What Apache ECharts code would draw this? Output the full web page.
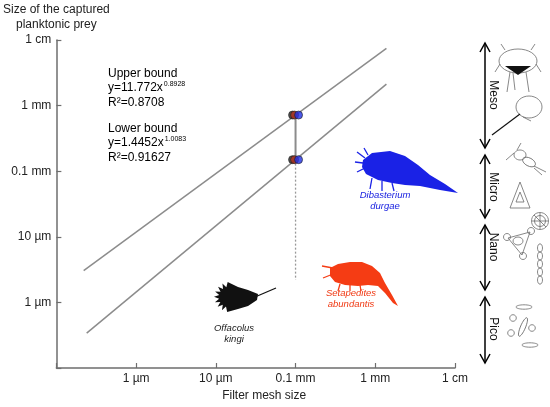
<!DOCTYPE html>
<html><head><meta charset="utf-8">
<script src="https://cdn.jsdelivr.net/npm/echarts@6/dist/echarts.min.js"></script>
<style>html,body{margin:0;padding:0;background:#fff}#c{width:550px;height:407px}</style>
</head><body><div id="c"></div>
<script>
// ---- data (values in µm) ----
const tickExponents = [-1, 0, 1, 2, 3, 4];
const tickLabels = ['', '1 µm', '10 µm', '0.1 mm', '1 mm', '1 cm'];
const upperLine = [[0.22, 3.05], [1380, 7480]];
const lowerLine = [[0.24, 0.34], [1380, 2120]];
const measuredPoints = [[100, 718], [100, 150]];
const dropLine = [[100, 150], [100, 2.2]];
const boundLink = [[100, 718], [100, 150]];
const sizeClasses = ['Meso', 'Micro', 'Nano', 'Pico'];
const speciesNames = ['Dibasterium\ndurgae', 'Setapedites\nabundantis', 'Offacolus\nkingi'];

const FONT = 'Liberation Sans, Arial, sans-serif';
function tickFmt(v) {
  const e = Math.round(Math.log10(v));
  const i = tickExponents.indexOf(e);
  return i >= 0 ? tickLabels[i] : '';
}
const axisCommon = {
  type: 'log', logBase: 10, min: 0.1, max: 10000,
  axisLine: { show: true, lineStyle: { color: '#6e6e6e', width: 1.5 } },
  axisTick: { show: true, inside: true, length: 5, lineStyle: { color: '#6e6e6e', width: 1.2 } },
  axisLabel: { formatter: tickFmt, color: '#222', fontSize: 12, fontFamily: FONT, margin: 5 },
  splitLine: { show: false }, minorTick: { show: false }
};

const chart = echarts.init(document.getElementById('c'));

const g = [];
const gray = '#6a6a6a';
function L(x1, y1, x2, y2, c, w) { g.push({ type: 'line', shape: { x1, y1, x2, y2 }, style: { stroke: c || gray, lineWidth: w || 0.8 }, silent: true }); }
function E(cx, cy, rx, ry, c, fill, rot) { g.push({ type: 'ellipse', x: cx, y: cy, rotation: rot || 0, shape: { cx: 0, cy: 0, rx, ry }, style: { stroke: c || gray, fill: fill || 'none', lineWidth: 0.8 }, silent: true }); }
function P(points, fill, stroke) { g.push({ type: 'polygon', shape: { points }, style: { fill: fill || 'none', stroke: stroke || 'none', lineWidth: 0.8 }, silent: true }); }

// annotations
const rich = { n: { fontSize: 12, fontFamily: FONT, color: '#111', lineHeight: 14.5 }, s: { fontSize: 7, fontFamily: FONT, color: '#111', lineHeight: 14.5, verticalAlign: 'top', padding: [0, 0, 0, 1] } };
g.push({ type: 'text', x: 108, y: 66, style: { text: '{n|Upper bound}\n{n|y=11.772x}{s|0.8928}\n{n|R²=0.8708}', rich } });
g.push({ type: 'text', x: 108, y: 121, style: { text: '{n|Lower bound}\n{n|y=1.4452x}{s|1.0083}\n{n|R²=0.91627}', rich } });

// species labels
const spPos = [[385, 190, '#1a22e0'], [351, 288, '#f03a14'], [234, 323, '#222']];
speciesNames.forEach((n, i) => g.push({ type: 'text', x: spPos[i][0], y: spPos[i][1], style: { text: n, fill: spPos[i][2], font: 'italic 9.5px ' + FONT, textAlign: 'center', lineHeight: 11 }, silent: true }));

// silhouettes
const blue = '#1a22e6';
P([[363,160],[372,153],[390,151],[405,156],[418,165],[430,175],[445,184],[458,193],[440,190],[420,186],[405,185],[392,183],[378,180],[366,174],[362,167]], blue);
[[365,158,357,152],[363,163,355,162],[365,168,357,172],[372,178,370,189],[382,181,382,191],[392,183,394,191],[368,155,364,148]].forEach(a => L(a[0],a[1],a[2],a[3],blue,1.3));
const red = '#f53c14';
P([[330,268],[338,264],[350,262],[362,262],[372,266],[380,273],[385,283],[392,295],[398,306],[393,303],[385,293],[378,286],[368,285],[358,286],[345,285],[335,282],[330,276]], red);
[[333,268,322,266],[333,274,323,278],[340,284,338,291],[350,285,350,291],[360,285,361,291]].forEach(a => L(a[0],a[1],a[2],a[3],red,1.3));
const fan = [];
for (let k = 0; k <= 16; k++) { const a = (95 + k * 10.5) * Math.PI / 180; const r = k % 2 ? 10 : 15; fan.push([229 + r * Math.cos(a), 297 - r * Math.sin(a)]); }
fan.push([238, 309], [248, 306], [257, 300], [258, 294], [248, 290], [238, 287]);
P(fan, '#111');
L(255, 297, 276, 288, '#111', 1.3);

// size class arrows
const arrows = [[43, 148], [155, 218], [225, 290], [297, 363]];
const lblY = [95, 187, 247, 329];
arrows.forEach((a, i) => {
  L(485, a[0], 485, a[1], '#000', 1.5);
  g.push({ type: 'polyline', shape: { points: [[480, a[0] + 9], [485, a[0]], [490, a[0] + 9]] }, style: { stroke: '#000', lineWidth: 1.5, fill: 'none' }, silent: true });
  g.push({ type: 'polyline', shape: { points: [[480, a[1] - 9], [485, a[1]], [490, a[1] - 9]] }, style: { stroke: '#000', lineWidth: 1.5, fill: 'none' }, silent: true });
  g.push({ type: 'text', x: 493, y: lblY[i], rotation: -Math.PI / 2, style: { text: sizeClasses[i], font: '12px ' + FONT, fill: '#111', textAlign: 'center', textVerticalAlign: 'middle' }, silent: true });
});

// plankton icons
E(518, 61, 19, 12);
P([[505,66],[531,66],[518,75]], '#111');
L(510,72,507,92); L(526,72,529,92); L(513,73,515,90); L(500,64,495,72); L(536,64,541,72); L(505,50,501,44); L(531,50,535,44);
E(529, 107, 13, 11);
L(520, 114, 492, 135, '#111', 1.2); L(523, 117, 531, 121);
E(520, 155, 6, 5); E(529, 162, 7, 4, gray, 'none', -0.5);
L(534,166,546,172); L(534,168,542,175); L(514,153,506,160); L(517,150,521,143);
P([[520,182],[510,208],[530,208]], 'none', gray); P([[520,192],[516,202],[524,202]], 'none', gray);
E(540, 221, 8.5, 8.5); E(540, 221, 5.5, 5.5);
L(540,213,540,229); L(532,221,548,221); L(534,215,546,227);
P([[508,238],[530,232],[522,255]], 'none', gray);
E(507, 237, 3.5, 3.5); E(531, 231, 3.5, 3.5); E(523, 256, 3.5, 3.5); E(518, 241, 5, 4);
for (let k = 0; k < 5; k++) E(540, 248 + k * 8, 2.5, 4.2);
E(524, 307, 8, 2.2); E(513, 318, 3.3, 3.3); E(523, 327, 2.5, 10, gray, 'none', -0.4); E(532, 328, 3.3, 3.3); E(511, 333, 3.3, 3.3); E(530, 345, 8, 2.2);

const pt = (name, color, off) => ({ name, type: 'scatter', data: measuredPoints, symbol: 'circle', symbolSize: 8, symbolOffset: [off, 0], itemStyle: { color, borderColor: '#222', borderWidth: 0.8 }, z: 5, silent: true });

chart.setOption({
  animation: false,
  grid: { left: 56, right: 95, top: 40, bottom: 38 },
  xAxis: Object.assign({}, axisCommon, { name: 'Filter mesh size', nameLocation: 'middle', nameGap: 22, nameTextStyle: { fontSize: 12, fontFamily: FONT, color: '#222', padding: [0, 0, 0, 17] } }),
  yAxis: Object.assign({}, axisCommon, { name: 'Size of the captured\nplanktonic prey', nameLocation: 'end', nameGap: 8, nameTextStyle: { fontSize: 12, fontFamily: FONT, color: '#222', align: 'center', verticalAlign: 'bottom', lineHeight: 15 } }),
  series: [
    { type: 'line', data: upperLine, showSymbol: false, lineStyle: { color: '#8c8c8c', width: 1.5 }, silent: true },
    { type: 'line', data: lowerLine, showSymbol: false, lineStyle: { color: '#8c8c8c', width: 1.5 }, silent: true },
    { type: 'line', data: boundLink, showSymbol: false, lineStyle: { color: '#8c8c8c', width: 2 }, silent: true },
    { type: 'line', data: dropLine, showSymbol: false, lineStyle: { color: '#999', width: 1.3, type: [2, 2] }, silent: true },
    pt('Offacolus kingi', '#222', -3),
    pt('Setapedites abundantis', '#b8321e', -1),
    pt('Dibasterium durgae', '#1f2fe6', 3)
  ],
  graphic: g
});
</script></body></html>
